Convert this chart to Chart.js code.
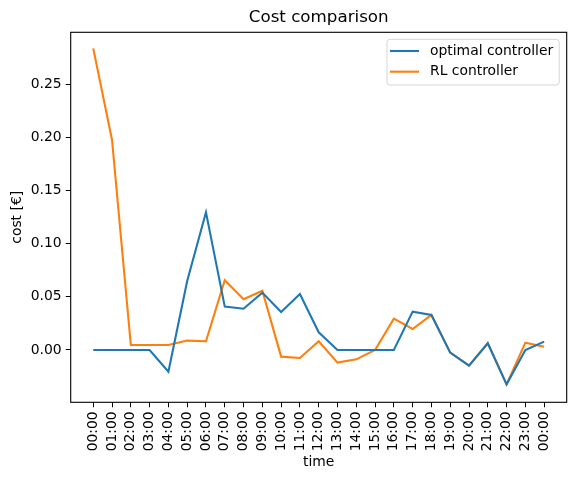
<!DOCTYPE html>
<html>
<head>
<meta charset="utf-8">
<script src="https://cdn.jsdelivr.net/npm/chart.js@4"></script>
<style>
  body { margin: 0; background: #fff; }
</style>
</head>
<body>
<canvas id="costChart" width="576" height="481"></canvas>
<script>
// time axis labels (25 hourly steps)
const timeLabels = ['00:00','01:00','02:00','03:00','04:00','05:00','06:00','07:00','08:00','09:00',
    '10:00','11:00','12:00','13:00','14:00','15:00','16:00','17:00','18:00','19:00',
    '20:00','21:00','22:00','23:00','00:00'];

// cost values
const optimalCost = [0, 0, 0, 0, -0.0204, 0.0648, 0.1294, 0.0407, 0.0388, 0.0539,
    0.0357, 0.0526, 0.0166, 0, 0, 0, 0, 0.036, 0.0329, -0.0025,
    -0.0147, 0.0063, -0.0323, 0.0, 0.0078];
const rlCost = [0.2835, 0.1974, 0.0047, 0.0046, 0.0047, 0.0088, 0.0082, 0.0655, 0.0476, 0.0557,
    -0.0063, -0.0075, 0.0082, -0.0119, -0.0088, 0.0, 0.0294, 0.0197, 0.0329, -0.0025,
    -0.0147, 0.0063, -0.0323, 0.0069, 0.0031];
const yTicks = [0, 0.05, 0.10, 0.15, 0.20, 0.25];
const chartTitle = 'Cost comparison';

Chart.defaults.font.family = "'DejaVu Sans', sans-serif";
Chart.defaults.font.size = 13.9;
Chart.defaults.color = '#000';

function toPoints(arr) {
    return arr.map((v, i) => ({ x: i, y: v }));
}

// frame, title over the axes and legend box inside the axes, matplotlib style
const framePlugin = {
    id: 'frame',
    afterDraw(chart) {
        const ctx = chart.ctx;
        const a = chart.chartArea;
        ctx.save();
        ctx.strokeStyle = '#000';
        ctx.lineWidth = 1.1;
        ctx.strokeRect(a.left, a.top, a.right - a.left, a.bottom - a.top);

        // title centred on the axes
        ctx.font = "16.7px 'DejaVu Sans', sans-serif";
        ctx.fillStyle = '#000';
        ctx.textAlign = 'center';
        ctx.textBaseline = 'middle';
        ctx.fillText(chartTitle, (a.left + a.right) / 2, 18);

        // legend
        ctx.font = "13.9px 'DejaVu Sans', sans-serif";
        const sets = chart.data.datasets;
        let maxW = 0;
        sets.forEach(ds => { maxW = Math.max(maxW, ctx.measureText(ds.label).width); });
        const boxRight = a.right - 7.5;
        const boxTop = a.top + 7;
        const boxW = maxW + 49;
        const boxH = 45.7;
        const boxLeft = boxRight - boxW;
        ctx.beginPath();
        ctx.roundRect(boxLeft, boxTop, boxW, boxH, 3);
        ctx.fillStyle = 'rgba(255,255,255,0.8)';
        ctx.fill();
        ctx.strokeStyle = '#d6d6d6';
        ctx.lineWidth = 1;
        ctx.stroke();
        sets.forEach((ds, i) => {
            const y = boxTop + 11.7 + i * 20.7;
            ctx.beginPath();
            ctx.moveTo(boxLeft + 3, y);
            ctx.lineTo(boxLeft + 32, y);
            ctx.strokeStyle = ds.borderColor;
            ctx.lineWidth = 2.1;
            ctx.stroke();
            ctx.fillStyle = '#000';
            ctx.textBaseline = 'middle';
            ctx.textAlign = 'left';
            ctx.fillText(ds.label, boxLeft + 43, y);
        });
        ctx.restore();
    }
};

const ctx = document.getElementById('costChart').getContext('2d');
new Chart(ctx, {
    type: 'line',
    data: {
        datasets: [
            {
                label: 'optimal controller',
                data: toPoints(optimalCost),
                borderColor: '#1f77b4',
                backgroundColor: '#1f77b4',
                borderWidth: 2.1,
                pointRadius: 0,
                tension: 0
            },
            {
                label: 'RL controller',
                data: toPoints(rlCost),
                borderColor: '#ff7f0e',
                backgroundColor: '#ff7f0e',
                borderWidth: 2.1,
                pointRadius: 0,
                tension: 0
            }
        ]
    },
    options: {
        responsive: false,
        animation: false,
        devicePixelRatio: 1,
        layout: { padding: { left: 0, right: 9.3, top: 32.3, bottom: 0 } },
        plugins: {
            legend: { display: false },
            tooltip: { enabled: false },
            title: { display: false }
        },
        scales: {
            x: {
                type: 'linear',
                min: -1.2,
                max: 25.2,
                afterBuildTicks: scale => {
                    scale.ticks = timeLabels.map((l, i) => ({ value: i }));
                },
                afterFit: scale => { scale.height = 78.7; },
                ticks: {
                    minRotation: 90,
                    maxRotation: 90,
                    padding: 4,
                    autoSkip: false,
                    callback: v => timeLabels[v]
                },
                grid: { drawOnChartArea: false, drawTicks: true, tickLength: 5, tickColor: '#000', tickWidth: 1 },
                border: { display: false },
                title: { display: true, text: 'time', padding: 10 }
            },
            y: {
                type: 'linear',
                min: -0.0492,
                max: 0.2986,
                afterBuildTicks: scale => {
                    scale.ticks = yTicks.map(v => ({ value: v }));
                },
                afterFit: scale => { scale.width = 70.7; },
                ticks: {
                    padding: 4,
                    callback: v => v.toFixed(2)
                },
                grid: { drawOnChartArea: false, drawTicks: true, tickLength: 5, tickColor: '#000', tickWidth: 1 },
                border: { display: false },
                title: { display: true, text: 'cost [€]', padding: 9 }
            }
        }
    },
    plugins: [framePlugin]
});
</script>
</body>
</html>
